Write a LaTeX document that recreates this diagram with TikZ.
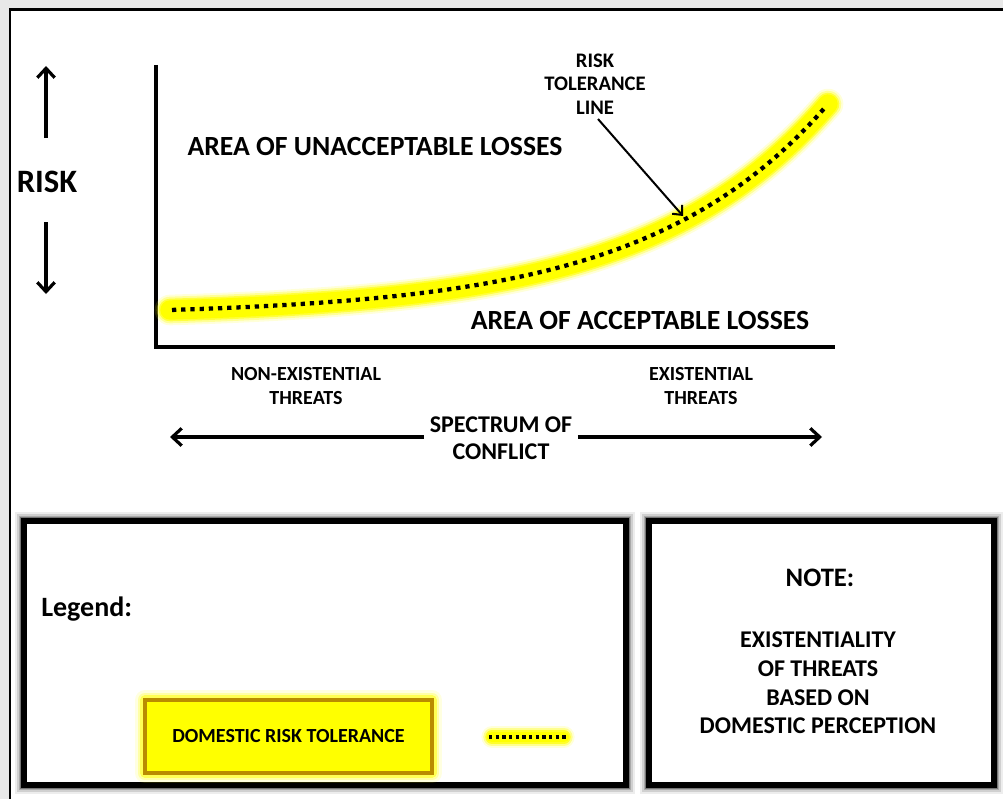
\documentclass[tikz,border=0pt]{standalone}
\usepackage{fontspec}
\setmainfont{Carlito}
\usetikzlibrary{arrows.meta}
\definecolor{glow}{RGB}{255,255,0}
\definecolor{boxedge}{RGB}{185,140,0}
\definecolor{pagegray}{RGB}{232,232,232}
\tikzset{
  txt/.style 2 args={font=\bfseries\fontsize{#1}{#2}\selectfont, align=center, inner sep=0pt},
  arr/.style={line width=2.4pt, -{Straight Barb[length=7pt,width=13pt,line width=2.4pt]}},
  dots/.style={line width=3.2pt, dash pattern=on 3.2pt off 3.7pt},
  panel/.style={line width=3.8pt, draw=black, fill=white},
}
% soft yellow halo followed by the dotted risk tolerance line
\newcommand{\glowline}[2]{%
  \foreach \w/\o in {23/0.15,20/0.3,17/0.6,14.5/1}{%
    \draw[glow, line width=\w pt, line cap=round, opacity=\o] #1;}
  \draw[dots] #2;}
% grey blurred shadow around a framed panel
\newcommand{\shadowbox}[2]{%
  \foreach \w/\o in {13/0.07,10/0.12,7.5/0.18,5.5/0.3}{%
    \draw[black, line width=\w pt, opacity=\o] #1 rectangle #2;}}
\begin{document}
\begin{tikzpicture}[x=0.75pt, y=-0.75pt]
\useasboundingbox (0,0) rectangle (1003,799);
\clip (0,0) rectangle (1003,799);
% page and outer frame (its right and bottom edges lie off the page)
\fill[pagegray] (-20,-20) rectangle (1030,830);
\fill[white] (9,9) rectangle (1030,830);
\draw[line width=2pt] (10,830) -- (10,9.5) -- (1030,9.5);

% axes
\coordinate (ytop) at (156,65);
\coordinate (orig) at (156,347);
\coordinate (xend) at (835,347);
\draw[line width=2.3pt] (ytop) -- (orig) -- (xend);

% risk scale
\node[txt={24.5}{28}] (risk) at (47,182) {RISK};
\coordinate (upfrom) at (46,138);
\coordinate (upto) at (46,66);
\coordinate (dnfrom) at (46,222);
\coordinate (dnto) at (46,294);
\draw[arr] (upfrom) -- (upto);
\draw[arr] (dnfrom) -- (dnto);

% risk tolerance curve
\glowline{plot[domain=170:828, samples=60, smooth] (\x,{310-5.7*(exp(0.0055*(\x-170))-1)})}
         {plot[domain=172:826, samples=60, smooth] (\x,{310-5.7*(exp(0.0055*(\x-170))-1)})}

\node[txt={20.8}{24}] (unacc) at (375,147) {AREA OF UNACCEPTABLE LOSSES};
\node[txt={20.8}{24}] (acc) at (640,320) {AREA OF ACCEPTABLE LOSSES};

\node[txt={15.5}{17.6}] (rtl) at (595,84) {RISK\\TOLERANCE\\LINE};
\coordinate (rtltip) at (683,216);
\draw[line width=1.5pt, -{Straight Barb[length=5.5pt,width=10pt,line width=1.5pt]}] (598,119) -- (rtltip);

% threat labels and spectrum
\node[txt={15}{17.3}] (nonex) at (306,386) {NON-EXISTENTIAL\\THREATS};
\node[txt={15}{17.3}] (exist) at (701,386) {EXISTENTIAL\\THREATS};
\node[txt={18}{20.2}, inner xsep=4pt] (spec) at (501,438) {SPECTRUM OF\\CONFLICT};
\coordinate (specl) at (170,437);
\coordinate (specr) at (822,437);
\draw[arr] (spec.west |- specl) -- (specl);
\draw[arr] (spec.east |- specr) -- (specr);

% legend panel
\shadowbox{(24,521)}{(626,785)}
\draw[panel] (24,521) rectangle (626,785);
\node[txt={21}{24}, anchor=west] (legend) at (41,609) {Legend:};
\foreach \w/\o in {15/0.12,11/0.25,7/0.5}{
  \draw[glow, line width=\w pt, opacity=\o, line join=round] (145,700) rectangle (432,773);}
\node[draw=boxedge, line width=2.6pt, fill=glow, minimum width=215.25pt, minimum height=54.75pt,
      font=\bfseries\fontsize{15}{17}\selectfont] (drt) at (288.5,736.5) {DOMESTIC RISK TOLERANCE};
\coordinate (la) at (492,737);
\coordinate (lb) at (564,737);
\foreach \w/\o in {16/0.15,13/0.35,10/0.7,8/1}{
  \draw[glow, line width=\w pt, line cap=round, opacity=\o] (la) -- (lb);}
\draw[dots, line width=2.4pt, dash pattern=on 2.4pt off 2.6pt] (489,737) -- (567,737);

% note panel
\shadowbox{(649,521)}{(994,785)}
\draw[panel] (649,521) rectangle (994,785);
\node[txt={20}{24}] (note) at (820,578) {NOTE:};
\node[txt={18}{21.6}] (notetxt) at (818,683)
  {EXISTENTIALITY\\OF THREATS\\BASED ON\\DOMESTIC PERCEPTION};
\end{tikzpicture}
\end{document}
